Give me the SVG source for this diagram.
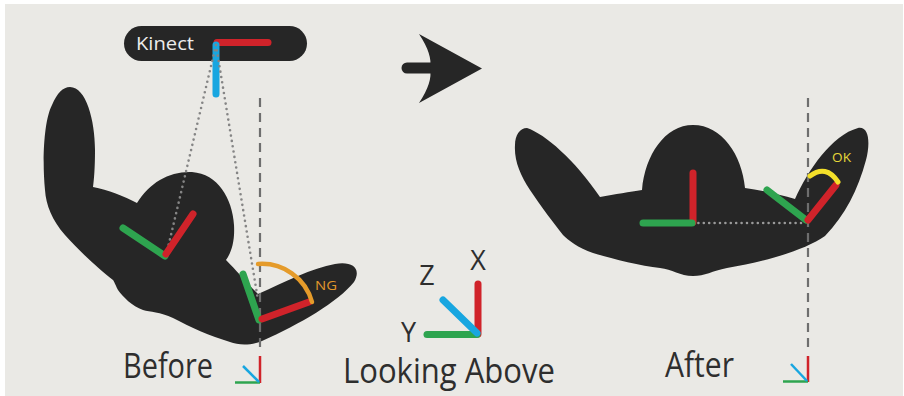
<svg xmlns="http://www.w3.org/2000/svg" width="904" height="396" viewBox="0 0 904 396">
  <style>
    .body { fill: #262626; }
    .ax { fill: none; stroke-width: 7; stroke-linecap: round; }
    .thin { fill: none; stroke-width: 2.5; stroke-linecap: butt; }
    .r { stroke: #d0232a; }
    .g { stroke: #2ea44f; }
    .b { stroke: #18a6e0; }
    .dash { fill: none; stroke: #6e6e6e; stroke-width: 2.2; stroke-dasharray: 9 6; }
    .dots { fill: none; stroke: #858585; stroke-width: 2.6; stroke-linecap: round; stroke-dasharray: 0 5.4; }
    .lbl { font-family: "Open Sans", "Noto Sans", sans-serif; fill: #2e2e2e; }
  </style>

  <!-- canvas -->
  <rect x="0" y="0" width="904" height="396" fill="#ffffff"/>
  <rect x="5" y="4" width="898" height="392" fill="#eae9e5"/>

  <!-- figure seen before the turn -->
  <g id="before-figure">
    <path class="body" d="M70,87 C86,87 95,120 95,150 C95,168 94,180 93,187 C108,190 124,196 137,203 C150,182 170,171 192,172 C218,174 232,198 234,225 C235,242 231,253 226,260 C236,270 248,284 258,294 C285,282 312,268 335,264 C352,261 362,268 354,282 C338,302 300,324 262,341 C250,346 238,345 230,342 C210,336 190,327 173,318 C160,312 150,312 143,310 C132,306 123,297 118,290 C115,284 114,281 113,280 C100,270 80,252 65,235 C52,220 46,205 45,190 C42,160 44,120 52,105 C57,93 63,87 70,87 Z"/>
  </g>

  <!-- figure seen after the turn -->
  <g id="after-figure">
    <path class="body" d="M527,128 C545,134 575,160 600,197 C615,194 630,192 642,190 C645,155 665,125 693,125 C722,125 742,155 745,188 C762,190 780,195 795,199 C808,170 832,135 858,128 C870,126 870,145 866,160 C858,190 845,215 825,236 C805,250 765,262 727,268 C712,271 705,276 693,276 C680,276 672,269 660,268 C640,266 610,258 593,253 C578,248 568,240 563,235 C555,225 540,205 530,190 C520,175 514,160 515,145 C515,135 520,128 527,128 Z"/>
  </g>

  <!-- sensor bar -->
  <g id="kinect">
    <rect x="124" y="26" width="183" height="35" rx="17.5" class="body"/>
    <text x="136" y="50" class="lbl" font-size="18" style="fill:#ececec" textLength="58" lengthAdjust="spacingAndGlyphs">Kinect</text>
    <line x1="217" y1="42.5" x2="268" y2="42.5" class="ax r"/>
    <line x1="216" y1="45" x2="216" y2="94" class="ax b"/>
  </g>

  <!-- direction arrow -->
  <g id="arrow">
    <line x1="407" y1="68" x2="432" y2="68" stroke="#262626" stroke-width="11" stroke-linecap="round"/>
    <path class="body" d="M419,34 L482,68.5 L419,103 Q433,82 430,68.5 Q433,55 419,34 Z"/>
  </g>

  <!-- sight lines and plumb lines -->
  <g id="connectors">
    <line x1="260" y1="98" x2="260" y2="352" class="dash"/>
    <line x1="808" y1="98" x2="808" y2="352" class="dash"/>
    <line x1="216" y1="45" x2="166" y2="256" class="dots"/>
    <line x1="216" y1="45" x2="258" y2="300" class="dots"/>
    <line x1="693" y1="223" x2="806" y2="223" class="dots" style="stroke:#9a9a9a"/>
  </g>

  <!-- joint frames, before -->
  <g id="before-joints">
    <line x1="123" y1="228" x2="165" y2="256" class="ax g"/>
    <line x1="166" y1="254" x2="193" y2="214" class="ax r"/>
    <line x1="243" y1="274" x2="259" y2="320" class="ax g"/>
    <line x1="262" y1="319" x2="309" y2="302" class="ax r"/>
    <path d="M258,264 A52,52 0 0 1 312,302" fill="none" stroke="#e59b2a" stroke-width="4.5" stroke-linecap="round"/>
    <text x="315" y="290" class="lbl" font-size="13" style="fill:#e0972c" textLength="22" lengthAdjust="spacingAndGlyphs">NG</text>
  </g>

  <!-- joint frames, after -->
  <g id="after-joints">
    <line x1="693" y1="173" x2="693" y2="222" class="ax r"/>
    <line x1="643" y1="223" x2="692" y2="223" class="ax g"/>
    <line x1="767" y1="190" x2="806" y2="220" class="ax g"/>
    <line x1="808" y1="220" x2="836" y2="185" class="ax r"/>
    <path d="M810,176 Q826,164 838,182" fill="none" stroke="#f4e02a" stroke-width="5" stroke-linecap="round"/>
    <text x="832" y="162" class="lbl" font-size="13" style="fill:#e6d83a" textLength="19" lengthAdjust="spacingAndGlyphs">OK</text>
  </g>

  <!-- axis legend -->
  <g id="legend">
    <line x1="478" y1="284" x2="478" y2="334" class="ax r"/>
    <line x1="427" y1="334.5" x2="477" y2="334.5" class="ax g"/>
    <line x1="443" y1="300" x2="477" y2="333" class="ax b"/>
    <text x="478" y="270" class="lbl" font-size="27" text-anchor="middle">X</text>
    <text x="427" y="285" class="lbl" font-size="27" text-anchor="middle">Z</text>
    <text x="408.5" y="342" class="lbl" font-size="27" text-anchor="middle">Y</text>
    <text x="343" y="383" class="lbl" font-size="34" textLength="212" lengthAdjust="spacingAndGlyphs">Looking Above</text>
  </g>

  <!-- small axis marks and captions -->
  <g id="before-caption">
    <line x1="260" y1="356" x2="260" y2="383" class="thin r"/>
    <line x1="235" y1="382.5" x2="260" y2="382.5" class="thin g"/>
    <line x1="243" y1="366" x2="259" y2="382" class="thin b"/>
    <text x="123" y="378" class="lbl" font-size="34" textLength="90" lengthAdjust="spacingAndGlyphs">Before</text>
  </g>
  <g id="after-caption">
    <line x1="808" y1="356" x2="808" y2="382" class="thin r"/>
    <line x1="783" y1="381.5" x2="808" y2="381.5" class="thin g"/>
    <line x1="791" y1="364" x2="807" y2="381" class="thin b"/>
    <text x="665" y="377" class="lbl" font-size="34" textLength="69" lengthAdjust="spacingAndGlyphs">After</text>
  </g>
</svg>
